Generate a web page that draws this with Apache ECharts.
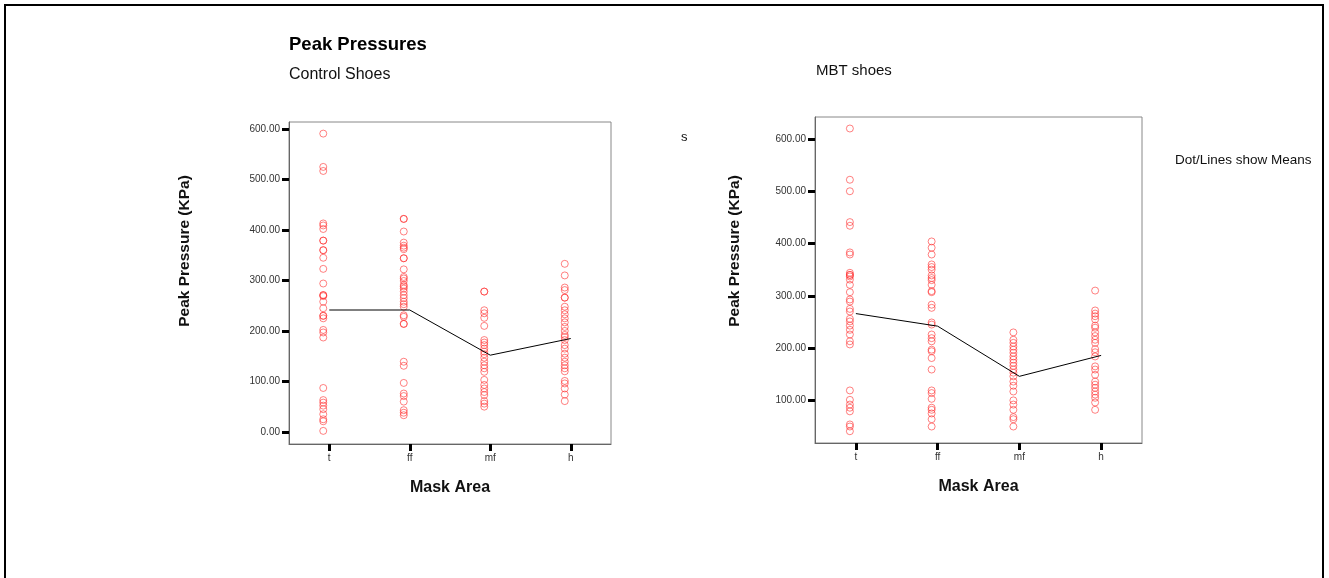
<!DOCTYPE html>
<html>
<head>
<meta charset="utf-8">
<title>Peak Pressures</title>
<script src="https://cdn.jsdelivr.net/npm/echarts@6/dist/echarts.min.js"></script>
<style>
    html, body { margin: 0; padding: 0; background: #fff; }
    #main { width: 1329px; height: 578px; }
</style>
</head>
<body>
<div id="main"></div>
<script>
// mask areas
const areas = ['t', 'ff', 'mf', 'h'];
const yTicks = [0, 100, 200, 300, 400, 500, 600];

// control shoes - peak pressure per mask area (KPa)
const controlT = [591, 525, 517, 413, 409, 402, 379, 379, 360, 360, 345, 323, 294, 271, 271, 269, 258, 245, 230, 230, 225, 202, 197, 187, 87, 63, 58, 52, 45, 35, 25, 21, 2];
const controlFF = [422, 422, 397, 375, 369, 365, 362, 344, 344, 322, 307, 304, 299, 291, 288, 284, 278, 271, 265, 258, 253, 248, 231, 228, 214, 214, 139, 131, 97, 76, 71, 60, 43, 38, 33];
const controlMF = [278, 278, 241, 235, 226, 210, 182, 177, 172, 165, 159, 154, 147, 139, 132, 126, 119, 103, 93, 86, 79, 73, 61, 56, 50];
const controlH = [333, 310, 286, 281, 266, 266, 248, 241, 233, 225, 217, 208, 200, 192, 188, 182, 172, 165, 155, 147, 139, 132, 126, 120, 101, 96, 86, 74, 61];
const controlMeans = [241.5, 241.5, 152, 185];

// MBT shoes
const mbtT = [620, 522, 500, 441, 434, 383, 379, 344, 340, 340, 337, 331, 321, 307, 293, 289, 275, 270, 256, 251, 243, 235, 226, 213, 207, 119, 101, 92, 86, 79, 54, 50, 41];
const mbtFF = [404, 392, 379, 360, 355, 350, 339, 334, 330, 321, 309, 307, 283, 277, 249, 245, 226, 219, 213, 197, 194, 181, 159, 119, 114, 103, 86, 82, 75, 64, 50];
const mbtMF = [230, 216, 210, 203, 197, 191, 184, 178, 172, 166, 159, 153, 146, 136, 128, 117, 100, 92, 82, 68, 64, 50];
const mbtH = [310, 272, 266, 261, 255, 243, 239, 230, 223, 216, 210, 198, 192, 184, 165, 159, 149, 136, 130, 124, 117, 111, 105, 96, 82];
const mbtMeans = [266, 242, 146, 186];

const FONT = 'Liberation Sans, Arial, sans-serif';
const RED = 'rgba(255, 45, 45, 0.75)';

function toPoints(cols) {
    const pts = [];
    cols.forEach((vals, i) => {
        vals.forEach(v => pts.push([i, v]));
    });
    return pts;
}

function makeXAxis(idx) {
    return {
        type: 'value',
        gridIndex: idx,
        min: -0.5,
        max: 3.5,
        name: 'Mask Area',
        nameLocation: 'middle',
        nameGap: 36,
        nameTextStyle: { fontFamily: FONT, fontSize: 16, fontWeight: 'bold', color: '#111' },
        axisLine: { onZero: false, lineStyle: { color: '#666', width: 1 } },
        axisTick: { customValues: [0, 1, 2, 3], length: 7, lineStyle: { color: '#000', width: 3 } },
        axisLabel: {
            customValues: [0, 1, 2, 3],
            margin: 9,
            fontFamily: FONT, fontSize: 10, color: '#333',
            formatter: v => areas[Math.round(v)]
        },
        splitLine: { show: false }
    };
}

// y axis name is drawn as graphic text (it sits above the axis middle)
function makeYAxis(idx, min, max) {
    return {
        type: 'value',
        gridIndex: idx,
        min: min,
        max: max,
        axisLine: { show: true, onZero: false, lineStyle: { color: '#666', width: 1 } },
        axisTick: { show: true, customValues: yTicks, length: 7, lineStyle: { color: '#000', width: 3 } },
        axisLabel: {
            customValues: yTicks,
            margin: 9,
            fontFamily: FONT, fontSize: 10, color: '#333',
            formatter: v => v.toFixed(2)
        },
        splitLine: { show: false }
    };
}

function scatterSeries(idx, cols) {
    return {
        type: 'scatter',
        xAxisIndex: idx,
        yAxisIndex: idx,
        data: toPoints(cols),
        symbol: 'circle',
        symbolSize: 7,
        symbolOffset: [-6, 0],
        itemStyle: { color: 'rgba(255,255,255,0)', borderColor: RED, borderWidth: 1 },
        silent: true
    };
}

function meanSeries(idx, means) {
    return {
        type: 'line',
        xAxisIndex: idx,
        yAxisIndex: idx,
        data: means.map((m, i) => [i, m]),
        showSymbol: false,
        lineStyle: { color: '#000', width: 1 },
        silent: true,
        z: 3
    };
}

function yName(x, y) {
    return {
        type: 'text', x: x, y: y, rotation: Math.PI / 2,
        style: {
            text: 'Peak Pressure (KPa)', font: 'bold 15.5px ' + FONT, fill: '#111',
            align: 'center', verticalAlign: 'middle'
        }
    };
}

const chart = echarts.init(document.getElementById('main'));

const option = {
    animation: false,
    textStyle: { fontFamily: FONT },
    grid: [
        { left: 289, top: 122, width: 322, height: 322, show: true, borderColor: '#888', borderWidth: 1 },
        { left: 815, top: 117, width: 327, height: 326, show: true, borderColor: '#888', borderWidth: 1 }
    ],
    xAxis: [makeXAxis(0), makeXAxis(1)],
    yAxis: [makeYAxis(0, -24, 614), makeYAxis(1, 18.5, 642)],
    series: [
        scatterSeries(0, [controlT, controlFF, controlMF, controlH]),
        meanSeries(0, controlMeans),
        scatterSeries(1, [mbtT, mbtFF, mbtMF, mbtH]),
        meanSeries(1, mbtMeans)
    ],
    graphic: [
        // outer frame
        { type: 'rect', shape: { x: 5, y: 5, width: 1318, height: 600 }, style: { fill: null, stroke: '#000', lineWidth: 2 }, silent: true },
        { type: 'text', left: 289, top: 35, style: { text: 'Peak Pressures', font: 'bold 18.5px ' + FONT, fill: '#000' } },
        { type: 'text', left: 289, top: 67, style: { text: 'Control Shoes', font: '16px ' + FONT, fill: '#111' } },
        { type: 'text', left: 681, top: 131, style: { text: 's', font: '13px ' + FONT, fill: '#111' } },
        { type: 'text', left: 816, top: 63, style: { text: 'MBT shoes', font: '15px ' + FONT, fill: '#111' } },
        { type: 'text', left: 1175, top: 153, style: { text: 'Dot/Lines show Means', font: '13.5px ' + FONT, fill: '#111' } },
        yName(185, 251),
        yName(735, 251)
    ]
};

chart.setOption(option);
</script>
</body>
</html>
